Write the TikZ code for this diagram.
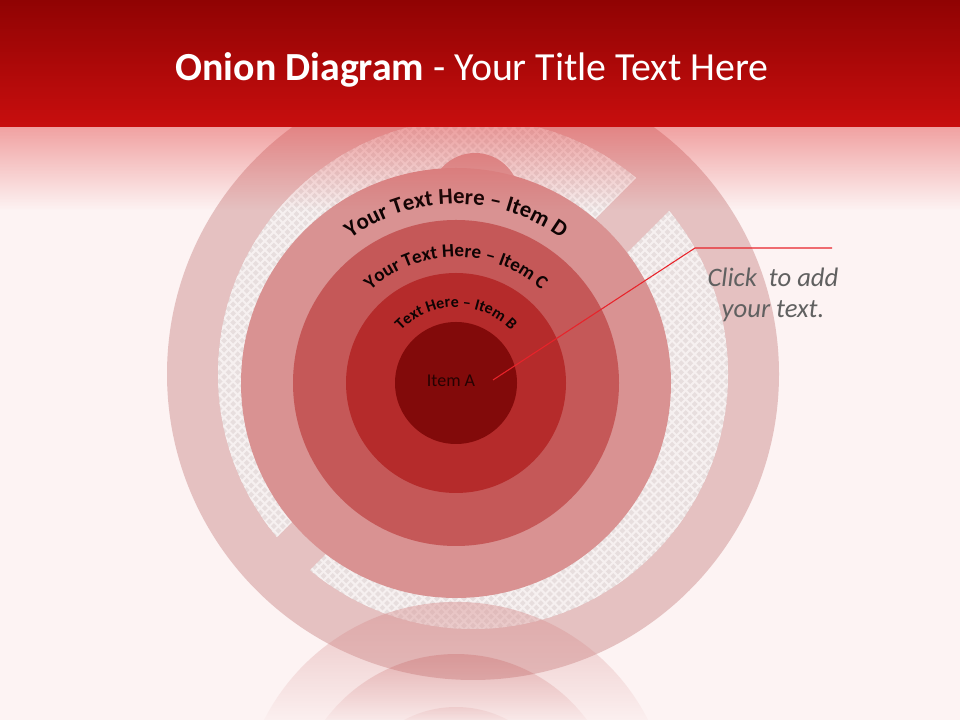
\documentclass[tikz,border=0pt]{standalone}
\usepackage{fontspec}
\setmainfont{Carlito}
\usetikzlibrary{decorations.text,fadings}
\definecolor{bgc}{RGB}{253,243,243}
\definecolor{outerc}{RGB}{229,193,193}
\definecolor{hatchc}{RGB}{231,222,222}
\definecolor{hatchl}{RGB}{246,240,240}
\definecolor{ringD}{RGB}{217,146,146}
\definecolor{ringC}{RGB}{197,88,88}
\definecolor{ringB}{RGB}{181,43,43}
\definecolor{ringA}{RGB}{130,10,10}
\definecolor{bumpc}{RGB}{221,160,160}
\definecolor{hdrtop}{RGB}{144,3,3}
\definecolor{hdrbot}{RGB}{200,14,14}
\definecolor{hdrfadec}{RGB}{224,50,50}
\definecolor{linec}{RGB}{232,35,42}
\definecolor{calloutc}{RGB}{96,96,96}
\definecolor{curvec}{RGB}{15,3,3}
\definecolor{itemac}{RGB}{38,2,2}
\tikzfading[name=hdrfade, top color=transparent!58, bottom color=transparent!100]
\pgfdeclareverticalshading{reflDsh}{100bp}{color(0bp)=(black); color(60.1bp)=(black); color(75bp)=(black!51); color(100bp)=(black!51)}
\pgfdeclarefading{reflD}{\pgfuseshading{reflDsh}}
\pgfdeclareverticalshading{reflCsh}{100bp}{color(0bp)=(black); color(63.35bp)=(black); color(75bp)=(black!71); color(100bp)=(black!71)}
\pgfdeclarefading{reflC}{\pgfuseshading{reflCsh}}
\pgfdeclareverticalshading{reflBsh}{100bp}{color(0bp)=(black); color(69.8bp)=(black); color(75bp)=(black!91); color(100bp)=(black!91)}
\pgfdeclarefading{reflB}{\pgfuseshading{reflBsh}}
\newcommand\fontDtxt{\bfseries\fontsize{17pt}{20pt}\selectfont}
\newcommand\fontCtxt{\bfseries\fontsize{14.3pt}{17pt}\selectfont}
\newcommand\fontBtxt{\bfseries\fontsize{12pt}{14pt}\selectfont}
\begin{document}
\begin{tikzpicture}[x=0.75pt,y=0.75pt,
  hatchline/.style={draw=hatchl, line width=1.5pt},
  curvetext/.style={decorate, decoration={text along path, text align=center, text color=curvec}},
  titletext/.style={text=white, font=\fontsize{29.9pt}{34pt}\selectfont, inner sep=0pt},
  itemtext/.style={text=itemac, font=\fontsize{13.5pt}{16pt}\selectfont, inner sep=0pt},
  callouttext/.style={text=calloutc, font=\itshape\fontsize{20pt}{24pt}\selectfont, inner sep=0pt, anchor=base},
  calloutline/.style={draw=linec, line width=0.8pt}]
\useasboundingbox (0,0) rectangle (960,720);
\fill[bgc] (0,0) rectangle (960,720);
\coordinate (O) at (456,337);
\coordinate (P) at (473,346);
% outer disc
\fill[outerc] (P) circle (306);
% hatched ring halves
\foreach \side/\ya/\yb in {up/23.5/300, down/-300/-23.5} {
\begin{scope}
  \clip (P) circle (255);
  \begin{scope}[shift={(473,346)}, rotate=45]
    \clip (-300,\ya) rectangle (300,\yb);
    \fill[hatchc] (-300,-300) rectangle (300,300);
    \foreach \k in {-258,-251.6,...,258} {
      \draw[hatchline] (-300,\k) -- (300,\k);
      \draw[hatchline] (\k,-300) -- (\k,300);
    }
  \end{scope}
\end{scope}
}
% bump
\fill[bumpc] (475,522.5) circle (44.5);
% onion
\fill[ringD] (O) circle (215);
\fill[ringC] (O) circle (163);
\fill[ringB] (O) circle (110);
\fill[ringA] (O) circle (61);
% reflection
\fill[ringD, path fading=reflD] (456,-97) circle (215);
\fill[ringC, path fading=reflC] (456,-97) circle (163);
\fill[ringB, path fading=reflB] (456,-97) circle (110);
% curved texts
\path[curvetext, decoration={text={|\fontDtxt|Your Text Here – Item D}}]
  (O) ++(172:179) arc[start angle=172, end angle=8, radius=179];
\path[curvetext, decoration={text={|\fontCtxt|Your Text Here – Item C}}]
  (O) ++(174:126) arc[start angle=174, end angle=6, radius=126];
\path[curvetext, decoration={text={|\fontBtxt|Text Here – Item B}}]
  (O) ++(179:76) arc[start angle=179, end angle=1, radius=76];
\node[itemtext] (itemA) at (451,339) {Item A};
% callout
\coordinate (cA) at (493,340);
\coordinate (cBend) at (695,472);
\coordinate (cEnd) at (832,472);
\draw[calloutline] (cA) -- (cBend) -- (cEnd);
\node[callouttext] (call1) at (773,433) {Click~ to add};
\node[callouttext] (call2) at (773,402) {your text.};
% header
\shade[top color=hdrtop, bottom color=hdrbot] (0,593) rectangle (960,720);
\fill[hdrfadec, path fading=hdrfade] (0,510) rectangle (960,593);
\node[titletext, anchor=base] (title) at (472,639) {\textbf{Onion Diagram} - Your Title Text Here};
\end{tikzpicture}
\end{document}
